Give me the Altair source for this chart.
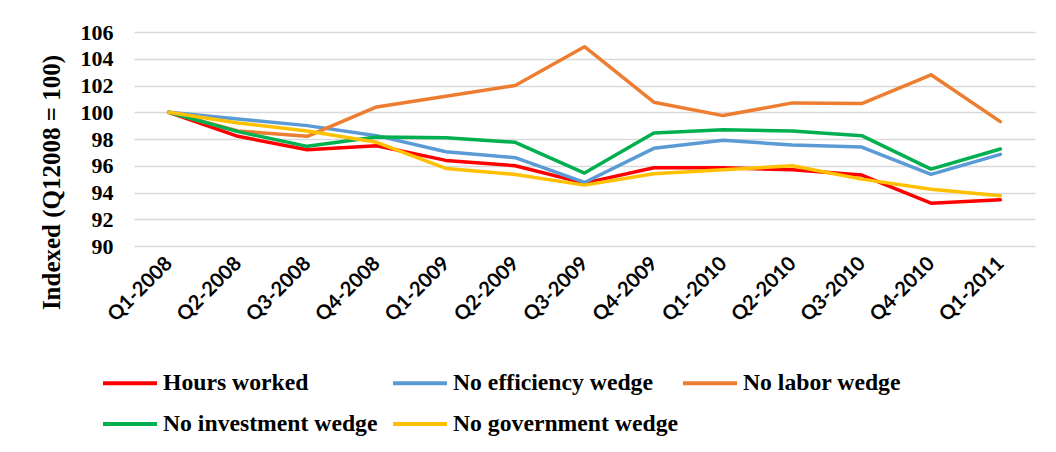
import altair as alt
import pandas as pd

# Quarter labels on the x axis
quarters = [
    "Q1-2008", "Q2-2008", "Q3-2008", "Q4-2008",
    "Q1-2009", "Q2-2009", "Q3-2009", "Q4-2009",
    "Q1-2010", "Q2-2010", "Q3-2010", "Q4-2010",
    "Q1-2011",
]

# Indexed series (Q1 2008 = 100)
hours_worked = [100.0, 98.2, 97.2, 97.5, 96.4, 96.0, 94.7, 95.85, 95.85, 95.7, 95.3, 93.2, 93.45]
no_efficiency = [100.0, 99.5, 99.0, 98.25, 97.05, 96.6, 94.75, 97.3, 97.9, 97.55, 97.4, 95.35, 96.85]
no_labor = [100.0, 98.6, 98.2, 100.4, 101.2, 102.0, 104.9, 100.75, 99.75, 100.7, 100.65, 102.8, 99.3]
no_investment = [100.0, 98.55, 97.45, 98.15, 98.1, 97.75, 95.45, 98.45, 98.7, 98.6, 98.25, 95.75, 97.25]
no_government = [100.0, 99.2, 98.6, 97.75, 95.8, 95.35, 94.55, 95.4, 95.7, 96.0, 95.0, 94.25, 93.75]

series_names = [
    "Hours worked",
    "No efficiency wedge",
    "No labor wedge",
    "No investment wedge",
    "No government wedge",
]
series_values = [hours_worked, no_efficiency, no_labor, no_investment, no_government]
series_colors = ["#FF0000", "#5B9BD5", "#ED7D31", "#00B050", "#FFC000"]

y_ticks = [90, 92, 94, 96, 98, 100, 102, 104, 106]

rows = []
for order, (name, values) in enumerate(zip(series_names, series_values)):
    for q, v in zip(quarters, values):
        rows.append({"quarter": q, "value": v, "series": name, "order": order})
df = pd.DataFrame(rows)

serif = "Liberation Serif, 'Times New Roman', 'DejaVu Serif', serif"
sans = "Lato, 'Open Sans', sans-serif"

chart = (
    alt.Chart(df)
    .mark_line(strokeWidth=3.5, strokeCap="round", strokeJoin="round")
    .encode(
        x=alt.X(
            "quarter:N",
            sort=quarters,
            scale=alt.Scale(type="point", padding=0.5),
            axis=alt.Axis(
                title=None,
                labelAngle=-45,
                labelAlign="right",
                labelBaseline="middle",
                labelFont=sans,
                labelFontWeight="bold",
                labelFontSize=20,
                labelColor="#000000",
                labelPadding=14,
                ticks=False,
                domain=False,
                grid=False,
            ),
        ),
        y=alt.Y(
            "value:Q",
            scale=alt.Scale(domain=[90, 106], nice=False, zero=False),
            axis=alt.Axis(
                title="Indexed (Q12008 = 100)",
                titleFont=serif,
                titleFontSize=25,
                titleFontWeight="bold",
                titleColor="#000000",
                titleX=-83,
                titleY=150,
                titleAngle=270,
                titleAlign="center",
                titleBaseline="middle",
                values=y_ticks,
                labelFont=serif,
                labelFontSize=22,
                labelFontWeight="bold",
                labelColor="#000000",
                labelPadding=21,
                ticks=False,
                domain=False,
                grid=True,
                gridColor="#D9D9D9",
                gridWidth=1.5,
            ),
        ),
        color=alt.Color(
            "series:N",
            sort=series_names,
            scale=alt.Scale(domain=series_names, range=series_colors),
            legend=alt.Legend(
                title=None,
                orient="none",
                legendX=-33,
                legendY=322,
                direction="horizontal",
                columns=3,
                gridAlign="all",
                columnPadding=-3,
                rowPadding=-12,
                symbolType="stroke",
                symbolSize=2916,
                symbolStrokeWidth=4,
                labelFont=serif,
                labelFontSize=23.7,
                labelFontWeight="bold",
                labelColor="#000000",
                labelLimit=400,
                labelOffset=4,
            ),
        ),
        order="order:Q",
    )
    .properties(
        width=901,
        height=214,
        padding={"left": 134, "top": 32, "right": 21, "bottom": 206},
        autosize=alt.AutoSizeParams(type="none"),
        background="#FFFFFF",
    )
    .configure_view(stroke=None)
)

chart.save("out.html", embed_options={"renderer": "svg", "actions": False})
